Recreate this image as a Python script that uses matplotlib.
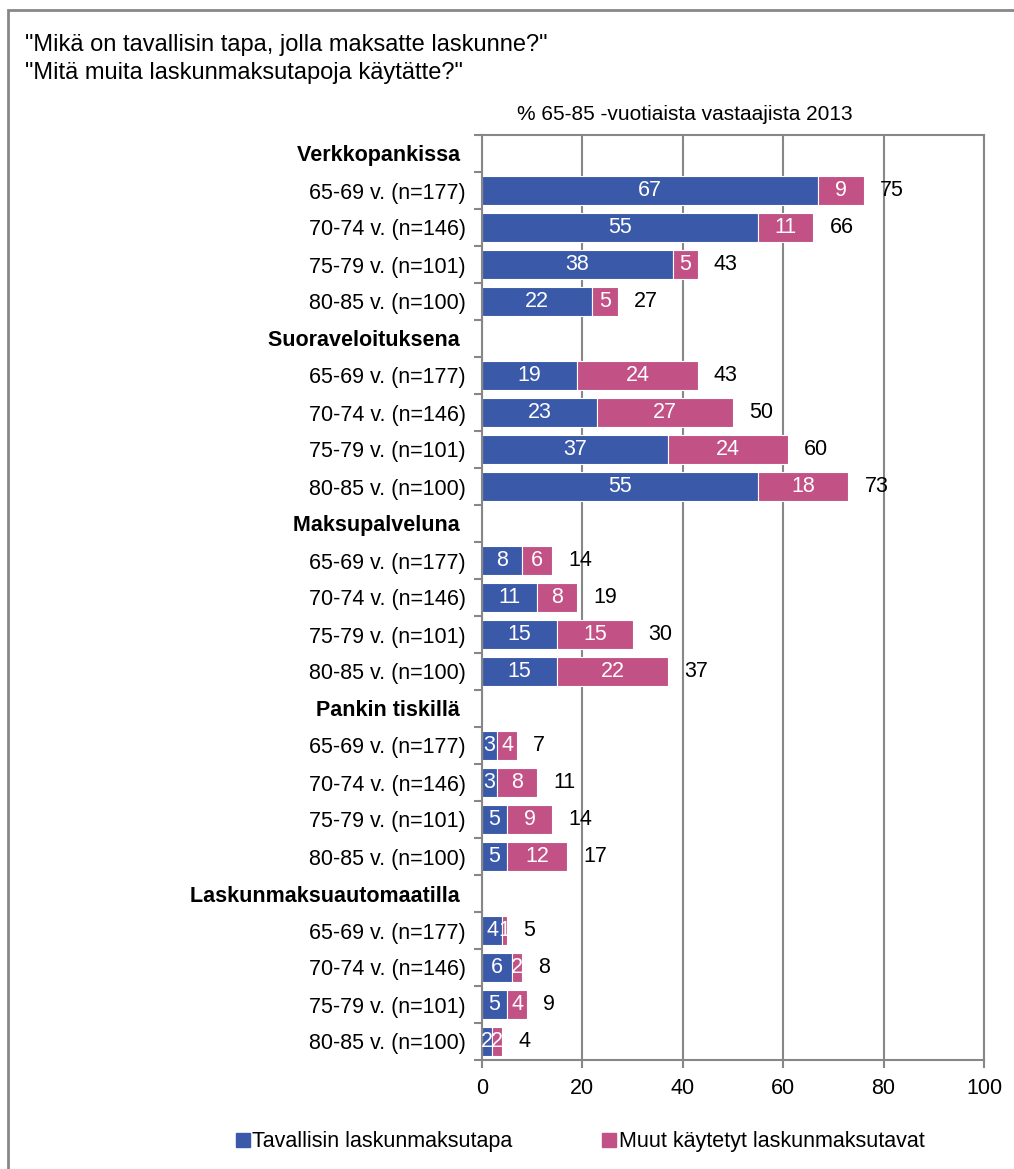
import numpy as np
import matplotlib.pyplot as plt
from matplotlib.patches import Rectangle, Patch

plt.rcParams['font.family'] = ['Liberation Sans', 'DejaVu Sans']

groups = ["Verkkopankissa", "Suoraveloituksena", "Maksupalveluna",
          "Pankin tiskillä", "Laskunmaksuautomaatilla"]
ages = ["65-69 v. (n=177)", "70-74 v. (n=146)", "75-79 v. (n=101)", "80-85 v. (n=100)"]

usual = [[67, 55, 38, 22],
         [19, 23, 37, 55],
         [8, 11, 15, 15],
         [3, 3, 5, 5],
         [4, 6, 5, 2]]
other = [[9, 11, 5, 5],
         [24, 27, 24, 18],
         [6, 8, 15, 22],
         [4, 8, 9, 12],
         [1, 2, 4, 2]]
total = [[75, 66, 43, 27],
         [43, 50, 60, 73],
         [14, 19, 30, 37],
         [7, 11, 14, 17],
         [5, 8, 9, 4]]

blue = "#3A59A8"
pink = "#C25186"
grey = "#878787"
fs = 15.5

fig = plt.figure(figsize=(10.14, 11.69), dpi=100)
W, H = 1014, 1169
ax = fig.add_axes([482 / W, 1 - 1060 / H, (984 - 482) / W, (1060 - 135) / H])

labels = []
bold = []
y = 0
for g in range(len(groups)):
    labels.append(groups[g] + " ")
    bold.append(True)
    y += 1
    for a in range(len(ages)):
        u = usual[g][a]
        o = other[g][a]
        ax.barh(y, u, height=0.81, color=blue, edgecolor="white", linewidth=0.8)
        ax.barh(y, o, left=u, height=0.81, color=pink, edgecolor="white", linewidth=0.8)
        ax.text(u / 2, y, str(u), color="white", ha="center", va="center", fontsize=fs)
        ax.text(u + o / 2, y, str(o), color="white", ha="center", va="center", fontsize=fs)
        ax.text(u + o + 3.2, y, str(total[g][a]), color="black", ha="left", va="center", fontsize=fs)
        labels.append(ages[a])
        bold.append(False)
        y += 1

nrows = len(labels)
ax.set_ylim(nrows - 0.5, -0.5)
ax.set_xlim(0, 100)
ax.set_xticks(np.arange(0, 101, 20))
ax.set_yticks(np.arange(nrows))
ax.set_yticklabels(labels, fontsize=fs)
for t, b in zip(ax.get_yticklabels(), bold):
    if b:
        t.set_fontweight("bold")
ax.set_yticks(np.arange(nrows + 1) - 0.5, minor=True)
ax.tick_params(axis="y", which="major", length=0, pad=11.5)
ax.tick_params(axis="y", which="minor", length=6, color=grey, width=1.5)
ax.tick_params(axis="x", length=6, color=grey, width=1.5, labelsize=fs, pad=7)
ax.grid(axis="x", color=grey, linewidth=1.5)
ax.set_axisbelow(True)
for s in ax.spines.values():
    s.set_color(grey)
    s.set_linewidth(1.5)

fig.text(25 / W, 1 - 45 / H, '"Mikä on tavallisin tapa, jolla maksatte laskunne?"',
         fontsize=17, va="center", ha="left")
fig.text(25 / W, 1 - 73 / H, '"Mitä muita laskunmaksutapoja käytätte?"',
         fontsize=17, va="center", ha="left")
fig.text(517 / W, 1 - 115 / H, "% 65-85 -vuotiaista vastaajista 2013",
         fontsize=15, va="center", ha="left")

fig.legend(handles=[Patch(color=blue, label="Tavallisin laskunmaksutapa"),
                    Patch(color=pink, label="Muut käytetyt laskunmaksutavat")],
           loc="center", bbox_to_anchor=(580 / W, 1 - 1142 / H), ncol=2, frameon=False,
           fontsize=fs, handlelength=0.65, handleheight=0.65, handletextpad=0.1,
           columnspacing=4.2)

fig.patches.append(Rectangle((8 / W, -0.01), 1.0, 1 - 10 / H + 0.01, transform=fig.transFigure,
                             fill=False, edgecolor=grey, linewidth=2))

fig.savefig("out.png", dpi=100)
